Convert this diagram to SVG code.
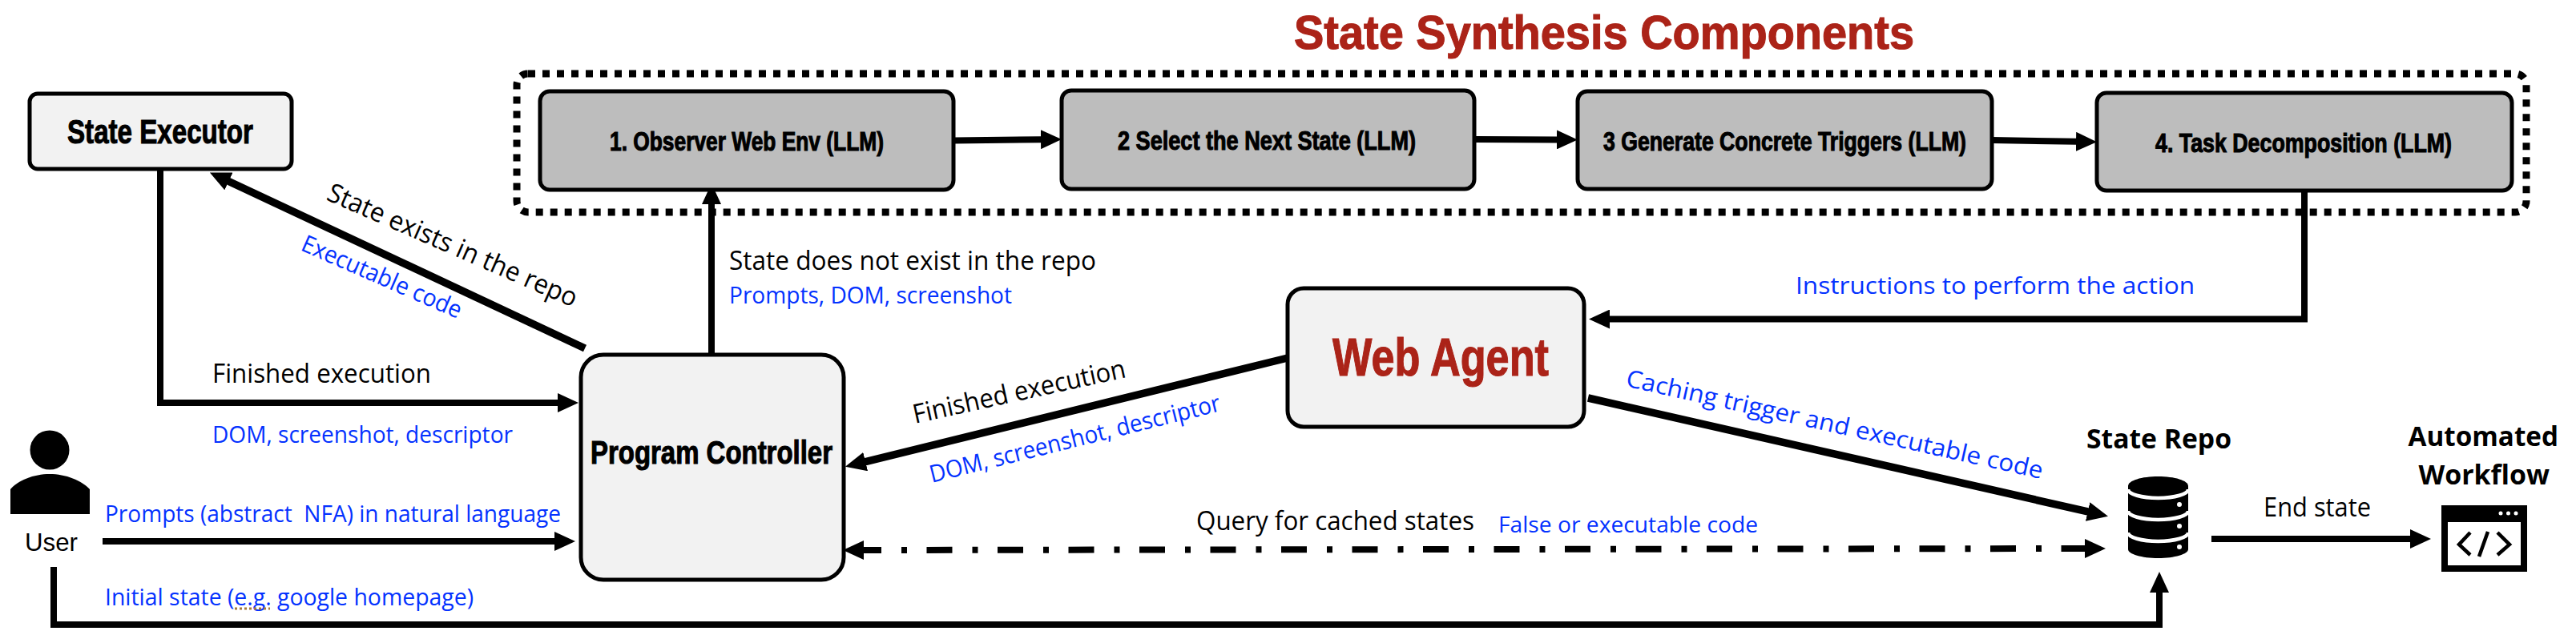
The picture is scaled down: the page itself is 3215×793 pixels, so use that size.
<svg xmlns="http://www.w3.org/2000/svg" width="3215" height="793" viewBox="0 0 3215 793">
<style>
.box{stroke:#000;stroke-width:5}
.light{fill:#f2f2f2}
.grey{fill:#bdbdbd}
.hd{font-family:"Liberation Sans",Arial,sans-serif;font-weight:700;stroke-width:1.1}
.hd.k{fill:#000;stroke:#000}
.hd.r{fill:#ab2318;stroke:#ab2318}
.lb{font-family:"Open Sans","Noto Sans",sans-serif;font-size:33px;fill:#000}
.bl{font-family:"Open Sans","Noto Sans",sans-serif;font-size:30px;fill:#0432ff}
.bd{font-family:"Open Sans","Noto Sans",sans-serif;font-size:34px;font-weight:700;fill:#000}
.c{fill:none;stroke:#000;stroke-width:8;marker-end:url(#ah)}
.d{stroke-width:9.500}
</style>
<defs>
<marker id="ah" markerUnits="userSpaceOnUse" markerWidth="26" markerHeight="24" viewBox="0 0 26 24" refX="1" refY="12" orient="auto-start-reverse"><path d="M0 0L26 12L0 24Z" fill="#000"/></marker>
</defs>
<rect width="3215" height="793" fill="#fff"/>
<text class="hd r" x="1615" y="61" font-size="60" textLength="774" lengthAdjust="spacingAndGlyphs">State Synthesis Components</text>
<g id="synthesis-group"><rect x="645" y="92" width="2508" height="173" rx="14" fill="none" stroke="#000" stroke-width="9" stroke-dasharray="9 9"/></g>
<g id="connectors">
<path class="c" d="M1190 175.5L1300 174.2"/>
<path class="c" d="M1840 174L1944 174.4"/>
<path class="c" d="M2486 175L2592 176.8"/>
<path class="c" d="M888 443V254"/>
<path class="c d" d="M730 435L284.500 226"/>
<path class="c" d="M200 212V503H697"/>
<path class="c" d="M128 676H693"/>
<path class="c d" d="M1607 447L1079.200 576.800"/>
<path class="c d" d="M1982 497L2606.600 639.200"/>
<path class="c" d="M2876 239V398.500H2008"/>
<path class="c" d="M67 708V780H2695V739"/>
<path class="c" d="M2760 673H3009"/>
<path class="c" d="M1077 687L2603 685" stroke-dasharray="32 25 7 24.500" stroke-dashoffset="9" style="marker-start:url(#ah)"/>
</g>
<g id="state-executor"><rect class="box light" x="37" y="117" width="327" height="94" rx="10"/><text class="hd k" x="84" y="179" font-size="43" textLength="232" lengthAdjust="spacingAndGlyphs">State Executor</text></g>
<g id="observer"><rect class="box grey" x="674" y="114" width="516" height="123" rx="12"/><text class="hd k" x="761" y="188" font-size="33" textLength="342" lengthAdjust="spacingAndGlyphs">1. Observer Web Env (LLM)</text></g>
<g id="select"><rect class="box grey" x="1325" y="113" width="515" height="123" rx="12"/><text class="hd k" x="1395" y="187" font-size="33" textLength="372" lengthAdjust="spacingAndGlyphs">2 Select the Next State (LLM)</text></g>
<g id="triggers"><rect class="box grey" x="1969" y="114" width="517" height="122" rx="12"/><text class="hd k" x="2001" y="188" font-size="33" textLength="453" lengthAdjust="spacingAndGlyphs">3 Generate Concrete Triggers (LLM)</text></g>
<g id="decomposition"><rect class="box grey" x="2617" y="116" width="518" height="122" rx="12"/><text class="hd k" x="2690" y="190" font-size="33" textLength="370" lengthAdjust="spacingAndGlyphs">4. Task Decomposition (LLM)</text></g>
<g id="program-controller"><rect class="box light" x="725" y="443" width="328" height="281" rx="28"/><text class="hd k" x="737" y="579" font-size="40" textLength="302" lengthAdjust="spacingAndGlyphs">Program Controller</text></g>
<g id="web-agent"><rect class="box light" x="1607" y="360" width="370" height="173" rx="20"/><text class="hd r" x="1663" y="469" font-size="66" textLength="270" lengthAdjust="spacingAndGlyphs">Web Agent</text></g>
<g id="user">
<circle cx="62" cy="562" r="24.500" fill="#000"/>
<path d="M13 642V611C22 600 42 592 62 592C82 592 102 600 112 611V642Z" fill="#000"/>
<text x="31" y="688" font-family="Liberation Sans,Arial,sans-serif" font-size="32" fill="#000" textLength="66" lengthAdjust="spacingAndGlyphs">User</text>
</g>
<g id="state-repo">
<text class="bd" x="2604" y="560" textLength="181" lengthAdjust="spacingAndGlyphs">State Repo</text>
<path d="M2656 607C2656 600 2673 595 2693.500 595C2714 595 2731 600 2731 607V686C2731 692 2714 697 2693.500 697C2673 697 2656 692 2656 686Z" fill="#000"/>
<path d="M2656 611A37.500 11 0 0 0 2731 611M2656 638A37.500 11 0 0 0 2731 638M2656 665A37.500 11 0 0 0 2731 665" fill="none" stroke="#fff" stroke-width="4.500"/>
<circle cx="2720" cy="630" r="3" fill="#fff"/><circle cx="2720" cy="657" r="3" fill="#fff"/><circle cx="2720" cy="683" r="3" fill="#fff"/>
</g>
<g id="automated-workflow">
<text class="bd" x="3005.500" y="557" textLength="187.500" lengthAdjust="spacingAndGlyphs">Automated</text>
<text class="bd" x="3018.500" y="605" textLength="163.500" lengthAdjust="spacingAndGlyphs">Workflow</text>
<rect x="3047" y="631" width="107" height="83" fill="#000"/>
<rect x="3055" y="652" width="91" height="54" fill="#fff"/>
<circle cx="3121" cy="641" r="2.500" fill="#fff"/><circle cx="3130.500" cy="641" r="2.500" fill="#fff"/><circle cx="3140" cy="641" r="2.500" fill="#fff"/>
<path d="M3083 665L3069 680L3083 693M3117 665L3132 680L3117 693M3105 664L3094 695" fill="none" stroke="#000" stroke-width="4.500"/>
</g>
<g id="labels">
<text class="lb" x="265" y="478" textLength="273" lengthAdjust="spacingAndGlyphs">Finished execution</text>
<text class="bl" x="265" y="553" textLength="375" lengthAdjust="spacingAndGlyphs">DOM, screenshot, descriptor</text>
<text class="bl" x="131" y="652" textLength="569" lengthAdjust="spacingAndGlyphs" xml:space="preserve">Prompts (abstract  NFA) in natural language</text>
<text class="bl" x="131" y="756" textLength="460" lengthAdjust="spacingAndGlyphs">Initial state (e.g. google homepage)</text>
<path d="M293 760H337" stroke="#a5793a" stroke-width="3" stroke-dasharray="3 3" fill="none"/>
<text class="lb" x="910" y="337" textLength="458" lengthAdjust="spacingAndGlyphs">State does not exist in the repo</text>
<text class="bl" x="910" y="379" textLength="353" lengthAdjust="spacingAndGlyphs">Prompts, DOM, screenshot</text>
<text class="lb" transform="translate(406 249) rotate(23.600)" textLength="337" lengthAdjust="spacingAndGlyphs">State exists in the repo</text>
<text class="bl" transform="translate(374 312) rotate(23.600)" textLength="215" lengthAdjust="spacingAndGlyphs">Executable code</text>
<text class="lb" transform="translate(1142 529) rotate(-12.400)" textLength="271" lengthAdjust="spacingAndGlyphs">Finished execution</text>
<text class="bl" transform="translate(1163 603) rotate(-14)" textLength="373" lengthAdjust="spacingAndGlyphs">DOM, screenshot, descriptor</text>
<text class="bl" transform="translate(2028 482) rotate(12.600)" textLength="532" lengthAdjust="spacingAndGlyphs">Caching trigger and executable code</text>
<text class="bl" x="2241" y="367" textLength="498" lengthAdjust="spacingAndGlyphs">Instructions to perform the action</text>
<text class="lb" x="1493" y="662" textLength="347" lengthAdjust="spacingAndGlyphs">Query for cached states</text>
<text class="bl" x="1870" y="665" style="font-size:27px" textLength="324" lengthAdjust="spacingAndGlyphs">False or executable code</text>
<text class="lb" x="2825" y="645" textLength="134" lengthAdjust="spacingAndGlyphs">End state</text>
</g>
</svg>
